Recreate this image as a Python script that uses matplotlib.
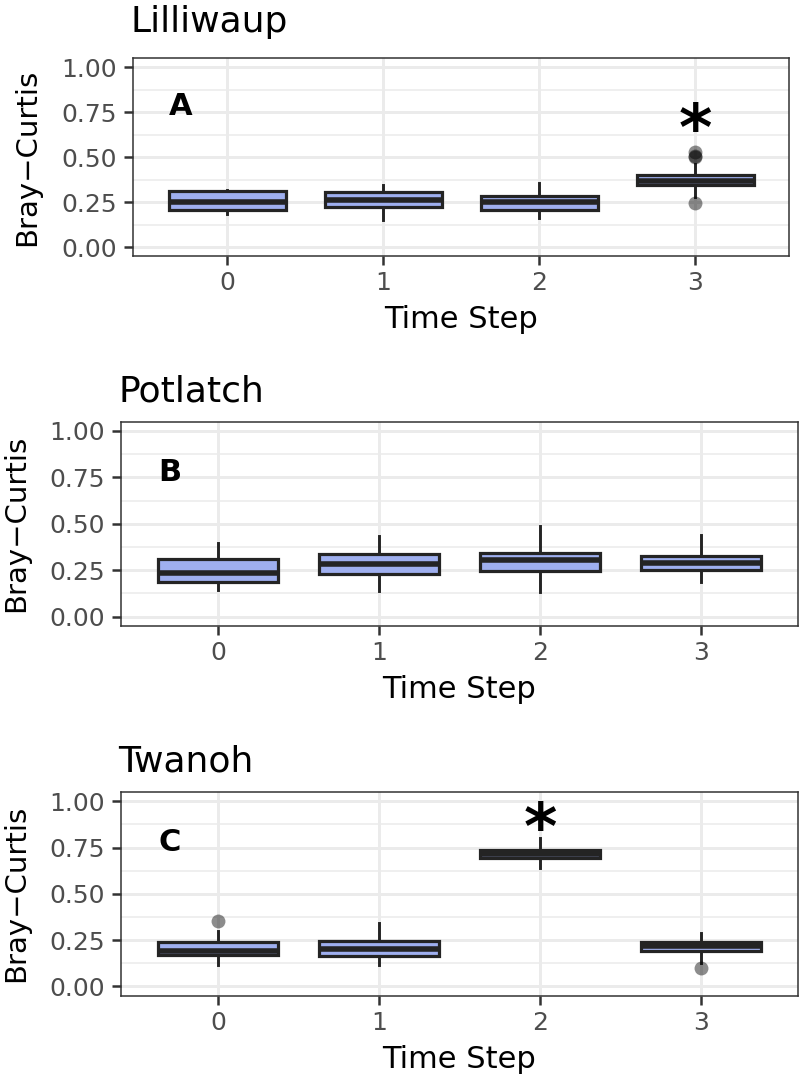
import matplotlib
matplotlib.use("Agg")
import matplotlib.pyplot as plt

plt.rcParams["font.family"] = ["DejaVu Sans"]

# Bray-Curtis box statistics per time step
time_steps = [0, 1, 2, 3]

lil_q1 = [0.207, 0.225, 0.205, 0.347]
lil_med = [0.249, 0.261, 0.252, 0.370]
lil_q3 = [0.311, 0.307, 0.283, 0.404]
lil_lo = [0.187, 0.154, 0.161, 0.281]
lil_hi = [0.319, 0.347, 0.356, 0.461]
lil_fliers = [[], [], [], [0.531, 0.505, 0.500, 0.246]]

pot_q1 = [0.184, 0.227, 0.247, 0.253]
pot_med = [0.236, 0.281, 0.302, 0.288]
pot_q3 = [0.310, 0.335, 0.344, 0.326]
pot_lo = [0.142, 0.139, 0.130, 0.187]
pot_hi = [0.394, 0.434, 0.488, 0.440]
pot_fliers = [[], [], [], []]

twa_q1 = [0.168, 0.165, 0.691, 0.191]
twa_med = [0.192, 0.204, 0.715, 0.215]
twa_q3 = [0.237, 0.242, 0.736, 0.238]
twa_lo = [0.113, 0.113, 0.641, 0.124]
twa_hi = [0.300, 0.341, 0.800, 0.286]
twa_fliers = [[0.355], [], [], [0.097]]

sites = ["Lilliwaup", "Potlatch", "Twanoh"]
panel_letters = ["A", "B", "C"]
star_steps = [3, None, 2]
y_ticks = [0.0, 0.25, 0.5, 0.75, 1.0]
y_ticklabels = ["0.00", "0.25", "0.50", "0.75", "1.00"]

FILL = "#9FAFEF"
DARK = "#242424"
GRID = "#EBEBEB"

W, H = 799, 1082
fig = plt.figure(figsize=(W / 100, H / 100), dpi=100)

# panel rectangles in pixels: left, top, right, bottom
rects = [
    (133.4, 58.3, 788.6, 256.3),
    (121.4, 421.7, 797.6, 625.8),
    (121.4, 792.0, 797.6, 995.5),
]
title_baseline = [32, 401.5, 771.5]
ylabel_right = [41, 30, 30]
star_top = [0.814, None, 1.009]

data = [
    (lil_q1, lil_med, lil_q3, lil_lo, lil_hi, lil_fliers),
    (pot_q1, pot_med, pot_q3, pot_lo, pot_hi, pot_fliers),
    (twa_q1, twa_med, twa_q3, twa_lo, twa_hi, twa_fliers),
]

for i, (l, t, r, b) in enumerate(rects):
    ax = fig.add_axes([l / W, 1 - b / H, (r - l) / W, (b - t) / H])
    q1, med, q3, lo, hi, fl = data[i]
    stats = []
    for k in range(len(time_steps)):
        stats.append(dict(q1=q1[k], med=med[k], q3=q3[k], whislo=lo[k],
                          whishi=hi[k], fliers=fl[k]))
    ax.bxp(stats, positions=time_steps, widths=0.75, patch_artist=True,
           showcaps=False,
           boxprops=dict(facecolor=FILL, edgecolor=DARK, linewidth=2.3),
           medianprops=dict(color=DARK, linewidth=4.0, solid_capstyle="butt"),
           whiskerprops=dict(color=DARK, linewidth=2.1),
           flierprops=dict(marker="o", markersize=10, markerfacecolor="black",
                           markeredgecolor="none", alpha=0.45))

    ax.set_xlim(-0.6, 3.6)
    ax.set_ylim(-0.05, 1.05)
    ax.set_xticks(time_steps)
    ax.set_xticklabels([str(s) for s in time_steps])
    ax.set_yticks(y_ticks)
    ax.set_yticklabels(y_ticklabels)
    ax.set_yticks([0.125, 0.375, 0.625, 0.875], minor=True)
    ax.set_axisbelow(True)
    ax.grid(True, which="major", color=GRID, linewidth=2.1)
    ax.grid(True, which="minor", axis="y", color=GRID, linewidth=1.1)
    ax.tick_params(which="minor", length=0)
    ax.tick_params(axis="both", which="major", length=6.8, width=1.8,
                   color="#333333", labelcolor="#4D4D4D", labelsize=18)
    ax.tick_params(axis="x", pad=4)
    ax.tick_params(axis="y", pad=5)
    for s in ax.spines.values():
        s.set_color("#333333")
        s.set_linewidth(1.1)

    pw, ph = r - l, b - t
    ax.set_xlabel("Time Step", fontsize=22, va="baseline")
    ax.xaxis.set_label_coords(0.5, -72 / ph)
    ax.set_ylabel("Bray\u2212Curtis", fontsize=21)
    ax.yaxis.set_label_coords((ylabel_right[i] - l) / pw, 0.5)

    ax.text(-3 / pw, (b - title_baseline[i]) / ph, sites[i],
            transform=ax.transAxes, fontsize=26, ha="left", va="baseline")
    ax.text(-0.30, 0.733, panel_letters[i], fontsize=22, fontweight="bold",
            ha="center", va="baseline")
    if star_steps[i] is not None:
        ax.text(star_steps[i], star_top[i], "*", fontsize=46,
                fontweight="bold", ha="center", va="top")

fig.savefig("out.png", dpi=100)
